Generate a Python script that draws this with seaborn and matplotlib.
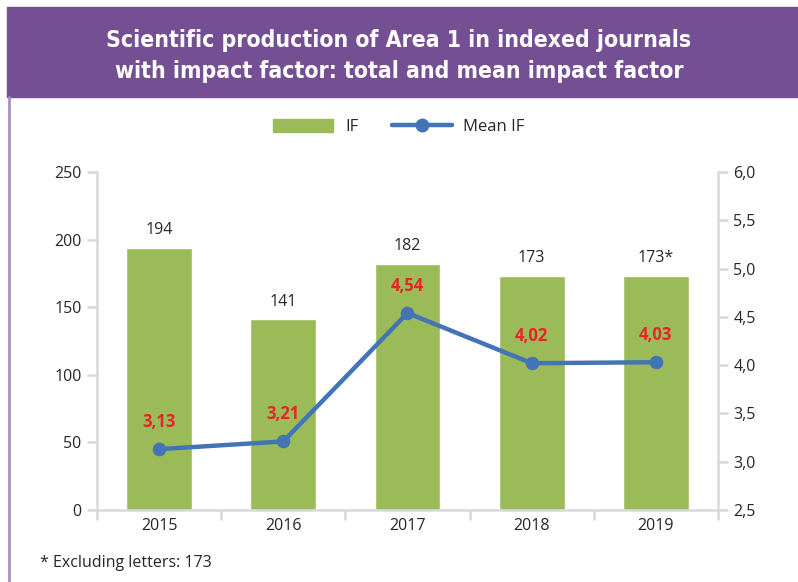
import numpy as np
import pandas as pd
import matplotlib
matplotlib.use("Agg")
import matplotlib.pyplot as plt
import seaborn as sns
from matplotlib.patches import Rectangle
from matplotlib.lines import Line2D
from matplotlib.patches import Patch

# Data
years = ["2015", "2016", "2017", "2018", "2019"]
year_labels = ["2015", "2016", "2017", "2018", "2019"]
if_totals = [194, 141, 182, 173, 173]
bar_labels = ["194", "141", "182", "173", "173*"]
mean_if = [3.13, 3.21, 4.54, 4.02, 4.03]
mean_labels = ["3,13", "3,21", "4,54", "4,02", "4,03"]
left_ticks = [0, 50, 100, 150, 200, 250]
right_ticks = [2.5, 3.0, 3.5, 4.0, 4.5, 5.0, 5.5, 6.0]

GREEN = "#9BBB59"
BLUE = "#4274B6"
RED = "#E8232A"
PURPLE = "#744F93"
GRID = "#D9D9D9"
TXT = "#262626"

sns.set_style("white")
plt.rcParams['font.family'] = ['Open Sans', 'DejaVu Sans']

df = pd.DataFrame({"year": years, "total": if_totals, "mean": mean_if})

fig = plt.figure(figsize=(7.98, 5.82), dpi=100)
ax = fig.add_axes([97 / 798, 1 - 510 / 582, 621 / 798, 338 / 582])

sns.barplot(data=df, x="year", y="total", color=GREEN, width=0.53,
            saturation=1, ax=ax)
ax.set_xlim(-0.5, 4.5)
ax.set_ylim(0, 250)
ax.set_yticks(left_ticks)
ax.set_yticklabels([str(t) for t in left_ticks])
ax.set_xticks(range(len(years)))
ax.set_xticklabels(year_labels)
ax.set_xlabel("")
ax.set_ylabel("")

for i, (v, lab) in enumerate(zip(if_totals, bar_labels)):
    ax.annotate(lab, (i, v), xytext=(0, 7), textcoords="offset points",
                ha="center", va="bottom", fontsize=11.5, color=TXT)

ax2 = ax.twinx()
sns.lineplot(x=np.arange(len(years)), y=mean_if, ax=ax2, color=BLUE,
             linewidth=3.2, marker="o", markersize=9,
             markeredgecolor=BLUE)
ax2.set_ylim(2.5, 6.0)
ax2.set_yticks(right_ticks)
ax2.set_yticklabels([f"{t:.1f}".replace(".", ",") for t in right_ticks])
ax2.set_xlim(-0.5, 4.5)

for i, (v, lab) in enumerate(zip(mean_if, mean_labels)):
    ax2.annotate(lab, (i, v), xytext=(0, 13), textcoords="offset points",
                 ha="center", va="bottom", fontsize=12, color=RED,
                 fontweight="bold")

for a in (ax, ax2):
    for s in a.spines.values():
        s.set_color(GRID)
        s.set_linewidth(1.8)
    a.spines["top"].set_visible(False)

ax.spines["right"].set_visible(False)
ax2.spines["left"].set_visible(False)
ax2.spines["bottom"].set_visible(False)

ax.tick_params(axis="y", which="major", direction="out", length=7, width=1.8,
               color=GRID, labelsize=11.5, labelcolor=TXT, pad=4, left=True)
ax2.tick_params(axis="y", which="major", direction="out", length=7, width=1.8,
                color=GRID, labelsize=11.5, labelcolor=TXT, pad=4, right=True)
ax.tick_params(axis="x", which="major", length=0, labelsize=11.5,
               labelcolor=TXT, pad=6)
ax.set_xticks(np.arange(-0.5, 5.0, 1.0), minor=True)
ax.tick_params(axis="x", which="minor", direction="out", length=7,
               width=1.8, color=GRID, bottom=True)

# header band and side border
fig.patches.append(Rectangle((7 / 798, 1 - 97 / 582), 1 - 7 / 798, 90 / 582,
                             transform=fig.transFigure, color=PURPLE,
                             zorder=0))
fig.lines.append(Line2D([8.5 / 798, 8.5 / 798], [0, 1 - 97 / 582],
                        transform=fig.transFigure, color="#A78FC4",
                        linewidth=2))
fig.text(0.5, 1 - 56 / 582,
         "Scientific production of Area 1 in indexed journals\nwith impact factor: total and mean impact factor",
         ha="center", va="center", color="white", fontsize=16.5,
         fontweight="bold", family="DejaVu Sans", fontstretch="condensed",
         linespacing=1.45)

# legend
handles = [Patch(facecolor=GREEN, edgecolor=GREEN, label="IF"),
           Line2D([0], [0], color=BLUE, linewidth=3.2, marker="o",
                  markersize=9, label="Mean IF")]
fig.legend(handles=handles, loc="center", bbox_to_anchor=(0.5, 1 - 127 / 582),
           ncol=2, frameon=False, fontsize=12, handlelength=3.6,
           handleheight=0.8, columnspacing=2.0, handletextpad=0.7)

fig.text(40 / 798, 1 - 563 / 582, "* Excluding letters: 173", ha="left",
         va="center", fontsize=11.5, color=TXT)

fig.savefig("out.png", dpi=100)
